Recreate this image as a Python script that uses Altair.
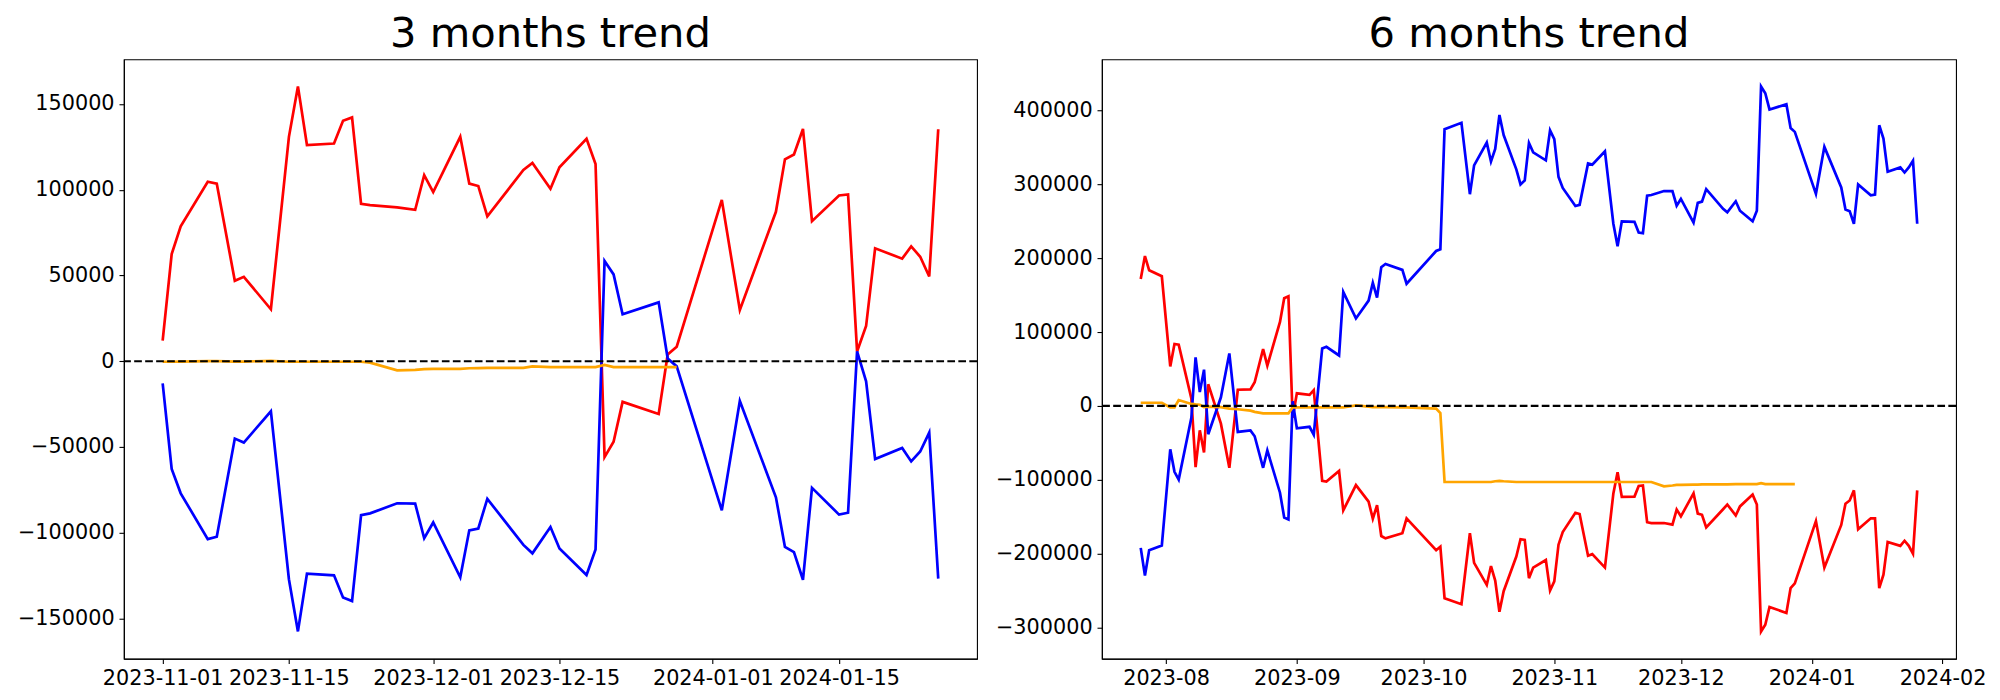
import altair as alt
import pandas as pd

# ---------------- 3 months panel ----------------
dates3 = ["2023-11-01", "2023-11-02", "2023-11-03", "2023-11-06", "2023-11-07", "2023-11-09",
          "2023-11-10", "2023-11-13", "2023-11-15", "2023-11-16", "2023-11-17", "2023-11-20",
          "2023-11-21", "2023-11-22", "2023-11-23", "2023-11-24", "2023-11-27", "2023-11-29",
          "2023-11-30", "2023-12-01", "2023-12-04", "2023-12-05", "2023-12-06", "2023-12-07",
          "2023-12-11", "2023-12-12", "2023-12-14", "2023-12-15", "2023-12-18", "2023-12-19",
          "2023-12-20", "2023-12-21", "2023-12-22", "2023-12-26", "2023-12-27", "2023-12-28",
          "2024-01-02", "2024-01-04", "2024-01-08", "2024-01-09", "2024-01-10", "2024-01-11",
          "2024-01-12", "2024-01-15", "2024-01-16", "2024-01-17", "2024-01-18", "2024-01-19",
          "2024-01-22", "2024-01-23", "2024-01-24", "2024-01-25", "2024-01-26"]
red3 = [12000, 62500, 78600, 104600, 103500, 46900, 49200, 30300, 130800, 160200, 126000, 126900,
        140200, 142100, 91700, 91000, 89700, 88300, 108500,
        98600, 130800, 103500, 102100, 84400, 111500, 115600, 100500, 113100, 129700, 115000,
        -55900, -46900, -23700, -30800, 3900, 8500,
        94000, 29900, 87100, 117700, 120500, 135400, 81600, 96600, 97200, 5700, 20500, 65800,
        59800, 66900, 60900, 49400, 135200]
blue3 = [-12900, -62800, -77000, -103700, -102300, -45100, -47400, -29200, -127100, -157500, -123900, -124800,
         -137700, -139800, -89700, -88700, -82800, -83000, -103200,
         -94000, -126000, -98600, -97500, -80200, -107100, -112000, -96600, -109200, -124600, -109700,
         58400, 50600, 27400, 34300, 1600, -3000,
         -86900, -23200, -79300, -108300, -111300, -127400, -73800, -89400, -88300, 5700, -11700, -57000,
         -50600, -58400, -52600, -41600, -126700]
orange3 = [-300, -300, -200, 0, 0, -200, -200, 200, -300, -300, -300, -300,
           -300, -300, -300, -800, -5300, -5000, -4600,
           -4500, -4500, -4100, -4000, -3900, -3900, -3000, -3400, -3400, -3400, -3400,
           -2200, -3400, -3400, -3400, -3400, -3400]
yticks3 = [-150000, -100000, -50000, 0, 50000, 100000, 150000]
xticks3 = [(2023, 11, 1), (2023, 11, 15), (2023, 12, 1), (2023, 12, 15), (2024, 1, 1), (2024, 1, 15)]

# ---------------- 6 months panel ----------------
dates6 = ["2023-07-26", "2023-07-27", "2023-07-28", "2023-07-31", "2023-08-02", "2023-08-03",
          "2023-08-04", "2023-08-07", "2023-08-08", "2023-08-09", "2023-08-10", "2023-08-11",
          "2023-08-14", "2023-08-16", "2023-08-18", "2023-08-21", "2023-08-22", "2023-08-24",
          "2023-08-25", "2023-08-28", "2023-08-29", "2023-08-30", "2023-08-31", "2023-09-01",
          "2023-09-04", "2023-09-05", "2023-09-07", "2023-09-08", "2023-09-11", "2023-09-12",
          "2023-09-15", "2023-09-18", "2023-09-19", "2023-09-20", "2023-09-21", "2023-09-22",
          "2023-09-26", "2023-09-27", "2023-10-04", "2023-10-05", "2023-10-06", "2023-10-10",
          "2023-10-12", "2023-10-13", "2023-10-16", "2023-10-17", "2023-10-18", "2023-10-19",
          "2023-10-20", "2023-10-23", "2023-10-24", "2023-10-25", "2023-10-26", "2023-10-27",
          "2023-10-30", "2023-10-31", "2023-11-01", "2023-11-02", "2023-11-03", "2023-11-06",
          "2023-11-07", "2023-11-09", "2023-11-10", "2023-11-13", "2023-11-15", "2023-11-16",
          "2023-11-17", "2023-11-20", "2023-11-21", "2023-11-22", "2023-11-23", "2023-11-24",
          "2023-11-27", "2023-11-29", "2023-11-30", "2023-12-01", "2023-12-04", "2023-12-05",
          "2023-12-06", "2023-12-07", "2023-12-11", "2023-12-12", "2023-12-14", "2023-12-15",
          "2023-12-18", "2023-12-19", "2023-12-20", "2023-12-21", "2023-12-22", "2023-12-26",
          "2023-12-27", "2023-12-28", "2024-01-02", "2024-01-04", "2024-01-08", "2024-01-09",
          "2024-01-10", "2024-01-11", "2024-01-12", "2024-01-15", "2024-01-16", "2024-01-17",
          "2024-01-18", "2024-01-19", "2024-01-22", "2024-01-23", "2024-01-24", "2024-01-25",
          "2024-01-26"]
red6 = [171900, 202900, 183700, 175600, 53400, 83800,
        82800, 10000, -82800, -33100, -63000, 29400,
        -24000, -83800, 21900, 22400, 32000, 76900,
        54500, 113700, 145800, 148400, -16000, 17100,
        15000, 21400, -101400, -102500, -88100, -141500,
        -107300, -129700, -152700, -134500, -176200, -179400,
        -172400, -152200, -195400, -190600, -260500, -268500,
        -172400, -212500, -242400, -216800, -236500, -278700,
        -250900, -203900, -180500, -181500, -233300, -218900,
        -208700, -249900, -237600, -187900, -170800, -144700,
        -146300, -202900, -200700, -218900, -118500, -89700,
        -123300, -122800, -108400, -107800, -157500, -158600,
        -158600, -160700, -140400, -149500, -118500, -145800,
        -147400, -164400, -139900, -133500, -148400, -136100,
        -120100, -133500, -305400, -296300, -272300, -280300,
        -246700, -240300, -155900, -218900, -161200, -132400,
        -128100, -114300, -167100, -152200, -152200, -246700,
        -228500, -184200, -189500, -182600, -189500, -200200,
        -114300]
blue6 = [-192200, -229600, -195400, -189000, -58700, -89200,
         -99800, -16000, 65700, 18700, 49100, -38400,
         11700, 71000, -35200, -33100, -41100, -83800,
         -60300, -117500, -151100, -153800, 6400, -30400,
         -28300, -39000, 77900, 80100, 68300, 154300,
         118500, 142600, 166600, 146800, 187900, 192200,
         184200, 165500, 209800, 212000, 374800, 383400,
         286700, 325700, 356600, 331000, 348100, 394000,
         366800, 320300, 300000, 305400, 356100, 343300,
         332600, 373200, 361400, 310200, 295200, 270700,
         272300, 328300, 326700, 344900, 246700, 216200,
         249900, 249300, 234900, 233800, 284600, 285600,
         291000, 291000, 271200, 280300, 248300, 275000,
         276600, 293600, 267000, 262100, 277100, 264300,
         249900, 264300, 432500, 423400, 401500, 408400,
         376400, 371100, 287200, 350800, 295800, 265900,
         263700, 246700, 300000, 285100, 286200, 380100,
         362000, 317100, 323000, 316100, 323000, 332100,
         246700]
orange6 = [4300, 4300, 4300, 4300, -2100, -2100,
           8000, 2700, 2000, 1600, -1600, -1000,
           -1600, -3700, -4500, -6400, -8000, -10100,
           -10100, -10100, -10100, -10100, -2100, -2100,
           -2100, -2100, -2100, -2100, -2100, -2100,
           600, -1000, -1600, -1600, -1600, -1600,
           -2000, -2000, -3700, -9600, -103000, -103000,
           -103000, -103000, -103000, -103000, -102000, -101400,
           -102000, -103000, -103000, -103000, -103000, -103000,
           -103000, -103000, -103000, -103000, -103000, -103000,
           -103000, -103000, -103000, -103000, -103000, -103000,
           -103000, -103000, -103000, -103000, -103000, -103000,
           -108900, -107800, -107000, -106800, -106500, -106500,
           -106200, -106200, -106200, -106200, -105800, -105800,
           -105800, -105800, -104600, -105800, -105800, -105800,
           -105800, -105800]
yticks6 = [-300000, -200000, -100000, 0, 100000, 200000, 300000, 400000]
xticks6 = [(2023, 8, 1), (2023, 9, 1), (2023, 10, 1), (2023, 11, 1), (2023, 12, 1), (2024, 1, 1), (2024, 2, 1)]

FONT = "DejaVu Sans"


def dt(y, m, d, h=0, mi=0):
    return alt.DateTime(year=y, month=m, date=d, hours=h, minutes=mi, utc=True)


def frame(dates, vals):
    return pd.DataFrame({"date": dates[:len(vals)], "value": vals})


def panel(dates, red, blue, orange, title, xdom, xticks, xfmt, ydom, yticks, w):
    x = alt.X("date:T",
              scale=alt.Scale(type="utc", domain=xdom, nice=False),
              axis=alt.Axis(values=[dt(*t) for t in xticks], format=xfmt, title=None,
                            labelAngle=0, labelOverlap=False, labelFlush=False))
    y = alt.Y("value:Q",
              scale=alt.Scale(domain=ydom, nice=False, zero=False),
              axis=alt.Axis(values=yticks, format="d", title=None, labelFlush=False,
                            labelOverlap=False))
    layers = []
    for vals, col in [(red, "red"), (blue, "blue"), (orange, "orange")]:
        layers.append(alt.Chart(frame(dates, vals)).mark_line(color=col, strokeWidth=2.7)
                      .encode(x=x, y=y))
    rule = (alt.Chart(pd.DataFrame({"value": [0]}))
            .mark_rule(color="black", strokeWidth=2.1, strokeDash=[7.7, 3.3])
            .encode(y=alt.Y("value:Q")))
    layers.append(rule)
    return alt.layer(*layers).properties(
        width=w, height=600,
        title=alt.TitleParams(text=title, fontSize=41.7, font=FONT, fontWeight="normal",
                              color="black", anchor="middle", offset=4))


left = panel(dates3, red3, blue3, orange3, "3 months trend",
             [dt(2023, 10, 27, 16, 48), dt(2024, 1, 30, 7, 12)], xticks3, "%Y-%m-%d",
             [-173400, 176000], yticks3, 854)
right = panel(dates6, red6, blue6, orange6, "6 months trend",
              [dt(2023, 7, 16, 19, 12), dt(2024, 2, 4, 4, 48)], xticks6, "%Y-%m",
              [-342300, 469400], yticks6, 855)

chart = (alt.hconcat(left, right, spacing=15)
         .properties(padding={"left": 8, "top": 4, "right": 5, "bottom": 5},
                     background="white")
         .configure_view(stroke="black", strokeWidth=1.1)
         .configure_axis(labelFont=FONT, labelFontSize=20.8, labelColor="black",
                         tickColor="black", tickSize=4.9, tickWidth=1.1,
                         domainColor="black", domainWidth=1.1, labelPadding=4.9, grid=False))

chart.save("out.html", embed_options={"renderer": "svg", "actions": False})
